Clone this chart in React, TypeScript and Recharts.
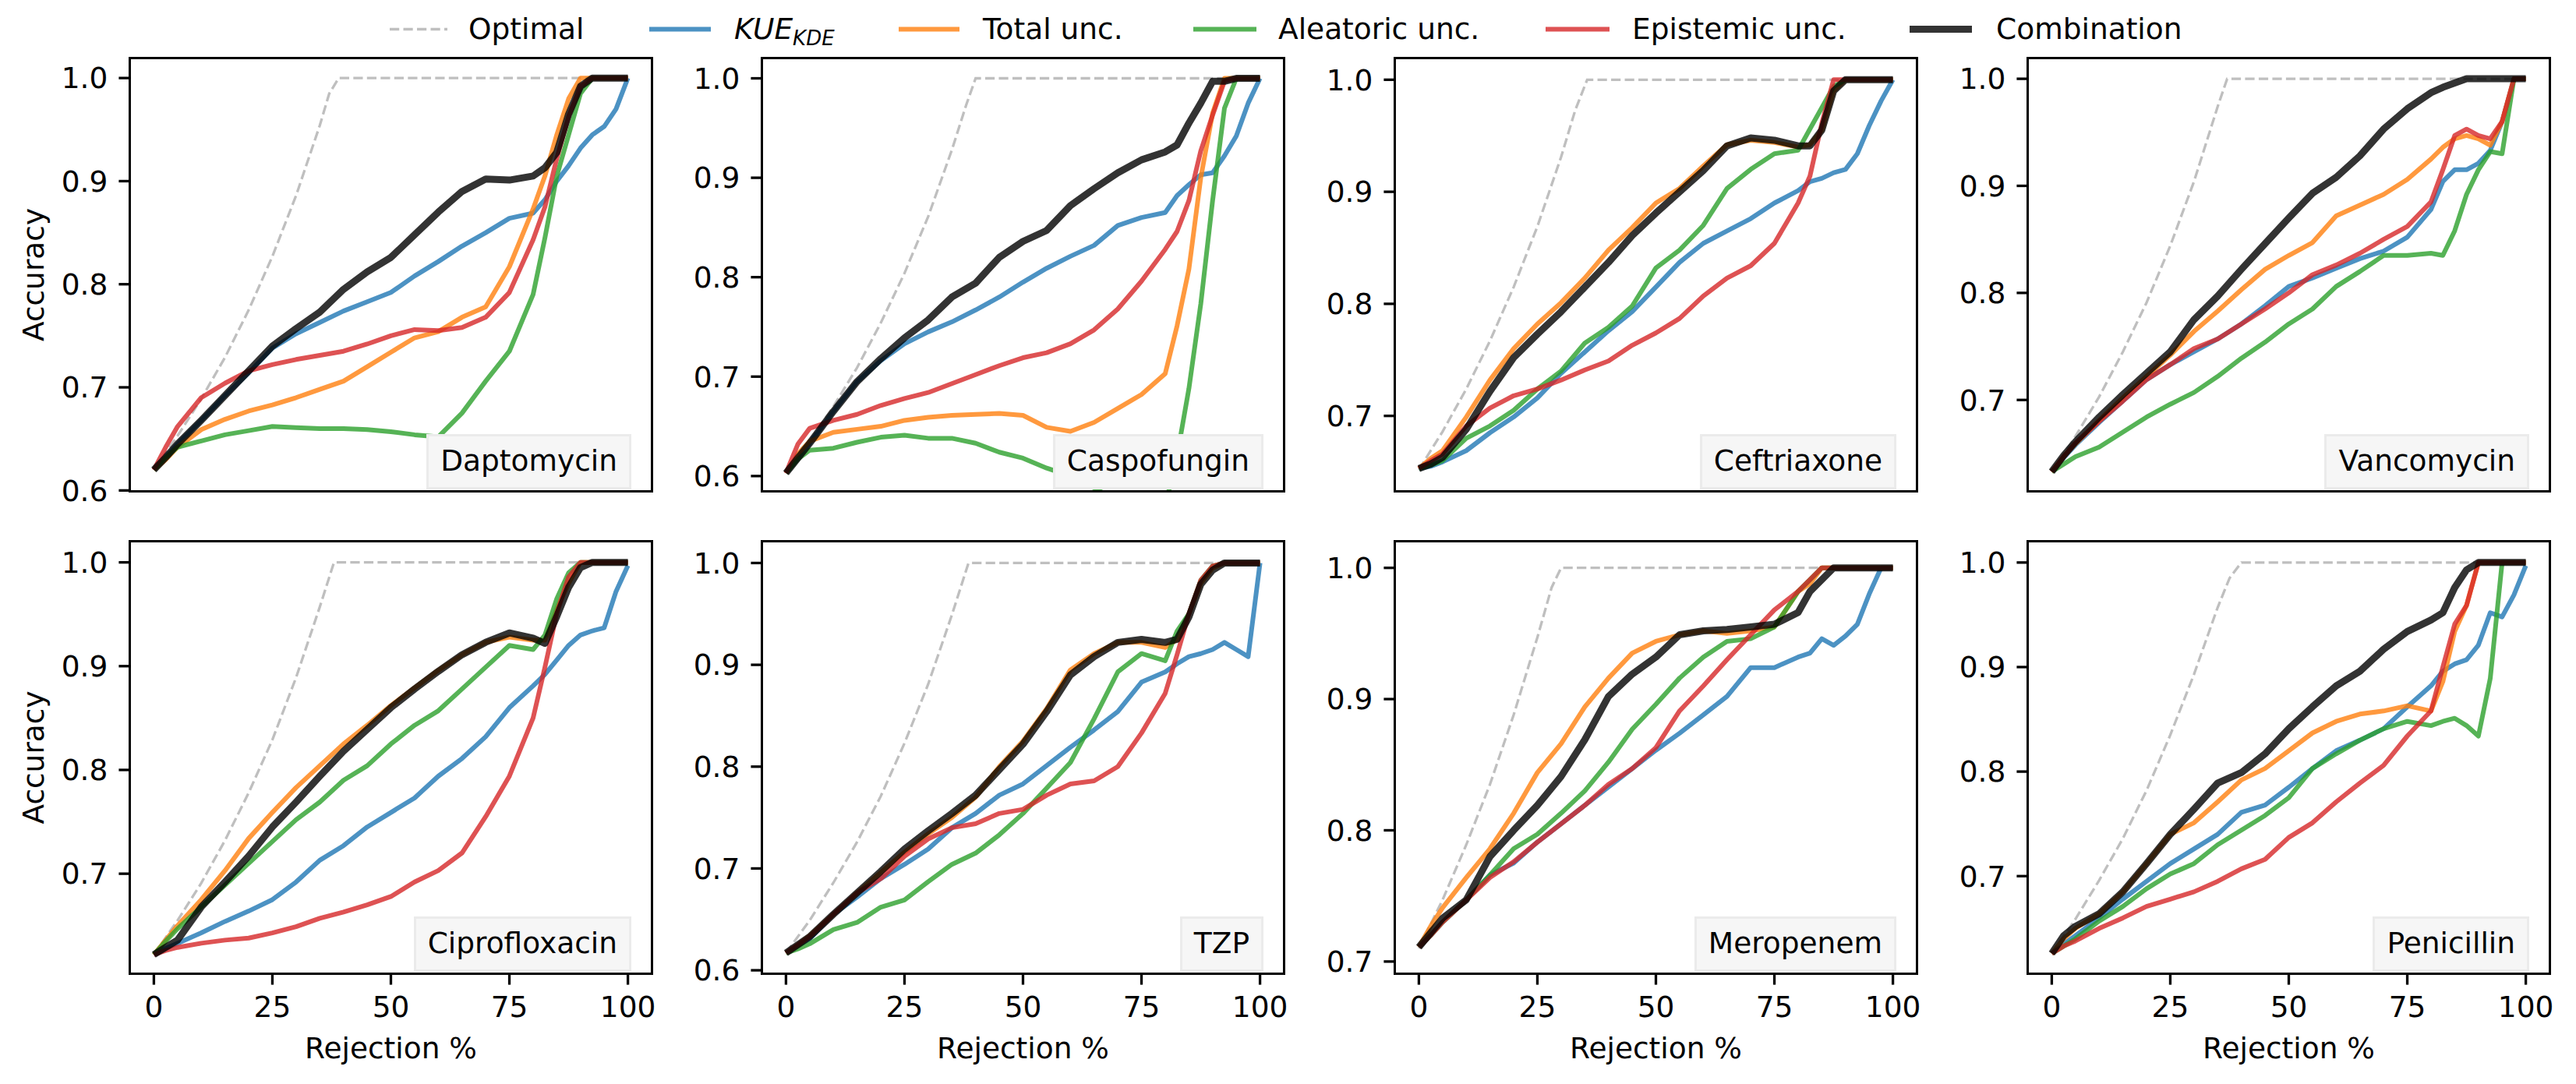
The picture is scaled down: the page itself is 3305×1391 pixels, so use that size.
import { LineChart, Line, XAxis, YAxis } from 'recharts';

// rejection grid shared by the five method curves
const REJ = [0, 2.5, 5, 10, 15, 20, 25, 30, 35, 40, 45, 50, 55, 60, 65, 70, 75, 80, 82.5, 85, 87.5, 90, 92.5, 95, 97.5, 100];

// Daptomycin
const DAPTO_KUE = [.620, .632, .645, .668, .692, .714, .738, .752, .763, .774, .783, .792, .808, .822, .837, .850, .864, .869, .882, .900, .915, .932, .945, .953, .970, 1];
const DAPTO_TOTAL = [.620, .630, .642, .659, .669, .677, .683, .690, .698, .706, .720, .734, .748, .754, .768, .778, .817, .873, .905, .945, .980, 1, 1, 1, 1, 1];
const DAPTO_ALEA = [.620, .632, .642, .648, .654, .658, .662, .661, .660, .660, .659, .657, .654, .652, .675, .706, .735, .790, .845, .905, .945, .985, 1, 1, 1, 1];
const DAPTO_EPI = [.620, .642, .662, .690, .704, .716, .722, .727, .731, .735, .742, .750, .756, .755, .758, .768, .792, .843, .875, .922, .963, .992, 1, 1, 1, 1];
const DAPTO_COMB = [.620, .632, .645, .668, .692, .716, .740, .757, .773, .795, .812, .826, .848, .870, .890, .902, .901, .905, .913, .928, .965, .992, 1, 1, 1, 1];
const DAPTO_OPT_X = [0, 5, 10, 15, 20, 25, 30, 35, 37, 39, 100];
const DAPTO_OPT = [.620, .653, .689, .729, .775, .827, .886, .954, .985, 1, 1];

// Caspofungin
const CASPO_KUE = [.603, .618, .633, .665, .695, .716, .733, .745, .755, .767, .780, .795, .809, .821, .832, .852, .860, .865, .882, .893, .903, .905, .922, .942, .975, 1];
const CASPO_TOTAL = [.603, .622, .635, .644, .647, .650, .656, .659, .661, .662, .663, .661, .649, .645, .654, .668, .682, .703, .751, .808, .900, .965, 1, 1, 1, 1];
const CASPO_ALEA = [.603, .617, .626, .628, .634, .639, .641, .638, .638, .633, .624, .618, .608, .600, .588, .575, .565, .570, .620, .688, .773, .877, .970, 1, 1, 1];
const CASPO_EPI = [.603, .632, .648, .656, .662, .671, .678, .684, .693, .702, .711, .719, .724, .733, .747, .768, .796, .828, .846, .877, .927, .963, .997, 1, 1, 1];
const CASPO_COMB = [.603, .618, .633, .665, .695, .718, .739, .757, .780, .794, .820, .836, .847, .872, .889, .905, .918, .926, .933, .955, .975, .997, .997, 1, 1, 1];
const CASPO_OPT_X = [0, 5, 10, 15, 20, 25, 30, 35, 38, 40, 100];
const CASPO_OPT = [.603, .635, .670, .709, .754, .804, .861, .928, .973, 1, 1];

// Ceftriaxone
const CEFT_KUE = [.653, .655, .659, .669, .685, .699, .716, .738, .757, .776, .793, .815, .837, .854, .865, .876, .890, .901, .909, .912, .917, .920, .934, .959, .981, 1];
const CEFT_TOTAL = [.653, .662, .669, .699, .732, .760, .782, .801, .823, .848, .868, .890, .903, .923, .942, .946, .944, .940, .942, .955, .990, 1, 1, 1, 1, 1];
const CEFT_ALEA = [.653, .656, .660, .680, .691, .705, .724, .740, .765, .779, .798, .832, .848, .870, .903, .920, .934, .937, .956, .975, .994, 1, 1, 1, 1, 1];
const CEFT_EPI = [.653, .660, .666, .691, .707, .718, .724, .732, .741, .749, .763, .774, .787, .807, .823, .834, .854, .890, .914, .961, 1, 1, 1, 1, 1, 1];
const CEFT_COMB = [.653, .657, .663, .688, .722, .752, .773, .793, .815, .837, .861, .881, .900, .919, .941, .948, .946, .941, .941, .955, .990, 1, 1, 1, 1, 1];
const CEFT_OPT_X = [0, 5, 10, 15, 20, 25, 30, 33, 35.5, 100];
const CEFT_OPT = [.652, .686, .724, .767, .815, .869, .931, .973, 1, 1];

// Vancomycin
const VANCO_KUE = [.633, .646, .658, .679, .699, .719, .733, .745, .757, .771, .788, .806, .814, .823, .832, .839, .852, .878, .904, .915, .915, .921, .933, .960, 1, 1];
const VANCO_TOTAL = [.633, .647, .659, .681, .702, .722, .742, .764, .783, .803, .822, .835, .847, .872, .882, .892, .906, .925, .936, .944, .947, .944, .938, .960, 1, 1];
const VANCO_ALEA = [.633, .640, .647, .656, .670, .684, .696, .707, .722, .739, .754, .771, .785, .806, .820, .835, .835, .837, .835, .858, .892, .915, .932, .930, 1, 1];
const VANCO_EPI = [.633, .647, .660, .680, .699, .719, .733, .748, .757, .771, .785, .800, .817, .826, .837, .850, .862, .885, .915, .947, .953, .947, .944, .960, 1, 1];
const VANCO_COMB = [.633, .648, .661, .684, .705, .725, .745, .775, .797, .822, .846, .870, .893, .908, .928, .953, .972, .987, .992, .996, 1, 1, 1, 1, 1, 1];
const VANCO_OPT_X = [0, 5, 10, 15, 20, 25, 30, 35, 37, 100];
const VANCO_OPT = [.633, .666, .703, .745, .791, .844, .904, .974, 1, 1];

// Ciprofloxacin
const CIPRO_KUE = [.622, .628, .633, .643, .654, .664, .675, .692, .713, .727, .745, .759, .773, .794, .811, .832, .860, .881, .892, .906, .920, .930, .934, .937, .972, .997];
const CIPRO_TOTAL = [.622, .636, .650, .675, .703, .734, .759, .783, .804, .825, .843, .862, .879, .896, .911, .923, .928, .925, .925, .955, .980, 1, 1, 1, 1, 1];
const CIPRO_ALEA = [.622, .635, .647, .668, .689, .710, .731, .752, .769, .790, .804, .825, .843, .857, .878, .899, .920, .916, .930, .965, .990, 1, 1, 1, 1, 1];
const CIPRO_EPI = [.622, .626, .629, .633, .636, .638, .643, .649, .657, .663, .670, .678, .692, .703, .720, .755, .794, .850, .899, .951, .986, 1, 1, 1, 1, 1];
const CIPRO_COMB = [.622, .629, .636, .668, .692, .717, .745, .769, .794, .818, .839, .860, .878, .895, .911, .923, .932, .927, .922, .948, .976, .995, 1, 1, 1, 1];
const CIPRO_OPT_X = [0, 5, 10, 15, 20, 25, 30, 35, 38, 100];
const CIPRO_OPT = [.622, .655, .691, .732, .778, .829, .889, .957, 1, 1];

// TZP
const TZP_KUE = [.617, .624, .631, .655, .672, .690, .704, .719, .740, .754, .772, .783, .801, .819, .836, .854, .883, .893, .901, .908, .911, .915, .922, .915, .908, 1];
const TZP_TOTAL = [.617, .625, .634, .655, .676, .696, .716, .734, .750, .770, .800, .825, .857, .895, .911, .922, .922, .917, .925, .950, .980, .995, 1, 1, 1, 1];
const TZP_ALEA = [.617, .621, .626, .640, .647, .662, .669, .687, .704, .715, .733, .754, .779, .804, .847, .893, .911, .904, .933, .950, .983, .997, 1, 1, 1, 1];
const TZP_EPI = [.617, .625, .633, .655, .676, .690, .712, .729, .740, .744, .754, .758, .772, .783, .786, .800, .833, .872, .910, .950, .983, .997, 1, 1, 1, 1];
const TZP_COMB = [.617, .625, .633, .655, .676, .697, .719, .737, .754, .772, .797, .822, .854, .890, .908, .922, .925, .922, .925, .947, .979, .993, 1, 1, 1, 1];
const TZP_OPT_X = [0, 5, 10, 15, 20, 25, 30, 35, 38.5, 100];
const TZP_OPT = [.617, .649, .686, .726, .771, .823, .881, .949, 1, 1];

// Meropenem
const MERO_KUE = [.711, .720, .730, .747, .766, .775, .791, .805, .819, .833, .847, .861, .874, .888, .902, .924, .924, .932, .935, .946, .941, .948, .957, .980, 1, 1];
const MERO_TOTAL = [.711, .727, .741, .764, .786, .813, .844, .866, .894, .916, .935, .944, .949, .952, .950, .952, .955, .982, .988, 1, 1, 1, 1, 1, 1, 1];
const MERO_ALEA = [.711, .720, .730, .747, .766, .786, .797, .813, .830, .852, .877, .896, .916, .932, .944, .946, .955, .982, .991, 1, 1, 1, 1, 1, 1, 1];
const MERO_EPI = [.711, .720, .730, .747, .764, .776, .791, .805, .819, .835, .847, .863, .891, .910, .930, .949, .968, .982, .991, 1, 1, 1, 1, 1, 1, 1];
const MERO_COMB = [.711, .722, .733, .747, .780, .800, .819, .841, .869, .902, .919, .932, .949, .952, .953, .955, .957, .966, .982, .991, 1, 1, 1, 1, 1, 1];
const MERO_OPT_X = [0, 5, 10, 15, 20, 25, 28, 30, 100];
const MERO_OPT = [.710, .747, .789, .835, .888, .947, .985, 1, 1];

// Penicillin
const PENI_KUE = [.626, .635, .643, .660, .678, .695, .712, .726, .740, .761, .768, .785, .803, .820, .830, .841, .862, .882, .896, .903, .907, .921, .952, .948, .969, .997];
const PENI_TOTAL = [.626, .640, .650, .664, .685, .712, .740, .751, .771, .792, .803, .820, .837, .848, .855, .858, .863, .858, .886, .934, .959, 1, 1, 1, 1, 1];
const PENI_ALEA = [.626, .633, .640, .657, .671, .688, .702, .712, .730, .744, .758, .775, .803, .817, .830, .841, .848, .844, .848, .851, .844, .834, .889, 1, 1, 1];
const PENI_EPI = [.626, .633, .638, .650, .660, .671, .678, .685, .695, .707, .716, .737, .751, .771, .789, .806, .834, .858, .900, .941, .959, 1, 1, 1, 1, 1];
const PENI_COMB = [.626, .643, .652, .664, .685, .712, .740, .764, .789, .799, .817, .841, .862, .882, .896, .917, .934, .945, .952, .976, .993, 1, 1, 1, 1, 1];
const PENI_OPT_X = [0, 5, 10, 15, 20, 25, 30, 35, 37.5, 40, 100];
const PENI_OPT = [.626, .659, .696, .736, .782, .835, .893, .957, .985, 1, 1];

const X_TICKS = [0, 25, 50, 75, 100];
const Y_TICKS = [0.6, 0.7, 0.8, 0.9, 1.0];

const PANELS = [
  { name: 'Daptomycin', yDomain: [0.5995, 1.019], kue: DAPTO_KUE, total: DAPTO_TOTAL, alea: DAPTO_ALEA, epi: DAPTO_EPI, comb: DAPTO_COMB, optX: DAPTO_OPT_X, opt: DAPTO_OPT },
  { name: 'Caspofungin', yDomain: [0.585, 1.02], kue: CASPO_KUE, total: CASPO_TOTAL, alea: CASPO_ALEA, epi: CASPO_EPI, comb: CASPO_COMB, optX: CASPO_OPT_X, opt: CASPO_OPT },
  { name: 'Ceftriaxone', yDomain: [0.633, 1.019], kue: CEFT_KUE, total: CEFT_TOTAL, alea: CEFT_ALEA, epi: CEFT_EPI, comb: CEFT_COMB, optX: CEFT_OPT_X, opt: CEFT_OPT },
  { name: 'Vancomycin', yDomain: [0.615, 1.019], kue: VANCO_KUE, total: VANCO_TOTAL, alea: VANCO_ALEA, epi: VANCO_EPI, comb: VANCO_COMB, optX: VANCO_OPT_X, opt: VANCO_OPT },
  { name: 'Ciprofloxacin', yDomain: [0.604, 1.02], kue: CIPRO_KUE, total: CIPRO_TOTAL, alea: CIPRO_ALEA, epi: CIPRO_EPI, comb: CIPRO_COMB, optX: CIPRO_OPT_X, opt: CIPRO_OPT },
  { name: 'TZP', yDomain: [0.597, 1.021], kue: TZP_KUE, total: TZP_TOTAL, alea: TZP_ALEA, epi: TZP_EPI, comb: TZP_COMB, optX: TZP_OPT_X, opt: TZP_OPT },
  { name: 'Meropenem', yDomain: [0.691, 1.02], kue: MERO_KUE, total: MERO_TOTAL, alea: MERO_ALEA, epi: MERO_EPI, comb: MERO_COMB, optX: MERO_OPT_X, opt: MERO_OPT },
  { name: 'Penicillin', yDomain: [0.607, 1.02], kue: PENI_KUE, total: PENI_TOTAL, alea: PENI_ALEA, epi: PENI_EPI, comb: PENI_COMB, optX: PENI_OPT_X, opt: PENI_OPT },
];

const SERIES = [
  { key: 'kue', color: '#1f77b4', width: 6 },
  { key: 'total', color: '#ff7f0e', width: 6 },
  { key: 'alea', color: '#2ca02c', width: 6 },
  { key: 'epi', color: '#d62728', width: 6 },
  { key: 'comb', color: '#000000', width: 9 },
];

const FONT = 'DejaVu Sans';
const FS = 37.5;
const SPINE = 3.3;
const COL_LEFT = [167, 978, 1790, 2602];
const ROW_TOP = [75, 695];
const PLOT_W = 669;
const PLOT_H = [555, 554];
const Y_W = 150;
const PAD = 20;

const TICK = { fill: '#000', fontSize: FS, fontFamily: FONT };
const TICK_LINE = { stroke: '#000', strokeWidth: SPINE };

const toPoints = (xs: number[], ys: number[]) => xs.map((x, i) => ({ x, y: ys[i] }));

function Panel({ panel, col, row }: { panel: any; col: number; row: number }) {
  const left = COL_LEFT[col];
  const top = ROW_TOP[row];
  const ph = PLOT_H[row];
  const bottomRow = row === 1;
  const xh = bottomRow ? 110 : 0;
  const mb = bottomRow ? 0 : 40;
  const yTicks = Y_TICKS.filter(t => t >= panel.yDomain[0] - 1e-6 && t <= panel.yDomain[1]);

  return (
    <>
      <div style={{ position: 'absolute', left: left - Y_W, top: top - PAD }}>
        <LineChart width={Y_W + PLOT_W + PAD} height={PAD + ph + xh + mb} margin={{ top: PAD, right: PAD, bottom: mb, left: 0 }}>
          <XAxis
            type="number" dataKey="x" domain={[-5, 105]} ticks={X_TICKS} allowDataOverflow interval={0}
            height={xh} axisLine={false} stroke="#000"
            tick={bottomRow ? TICK : false} tickLine={bottomRow ? TICK_LINE : false}
            tickSize={14.6} tickMargin={15}
          />
          <YAxis
            type="number" domain={panel.yDomain} ticks={yTicks} allowDataOverflow interval={0}
            width={Y_W} axisLine={false} stroke="#000" tick={TICK} tickLine={TICK_LINE}
            tickSize={14.6} tickMargin={14} tickFormatter={(v: number) => v.toFixed(1)}
          />
          <Line
            data={toPoints(panel.optX, panel.opt)} dataKey="y" type="linear" stroke="#bfbfbf"
            strokeWidth={3.3} strokeDasharray="12.2 5.3" dot={false} activeDot={false} isAnimationActive={false}
          />
          {SERIES.map(s => (
            <Line
              key={s.key} data={toPoints(REJ, panel[s.key])} dataKey="y" type="linear"
              stroke={s.color} strokeOpacity={0.8} strokeWidth={s.width} strokeLinejoin="round"
              dot={false} activeDot={false} isAnimationActive={false}
            />
          ))}
        </LineChart>
      </div>
      {/* axes frame */}
      <div style={{
        position: 'absolute', left: left - SPINE / 2, top: top - SPINE / 2, width: PLOT_W + SPINE, height: ph + SPINE,
        border: `${SPINE}px solid #000`, boxSizing: 'border-box', pointerEvents: 'none',
      }} />
      {/* drug name box */}
      <div style={{
        position: 'absolute', right: 3305 - (left + PLOT_W - 26), top: top + ph - 2 - 71, height: 71,
        boxSizing: 'border-box', border: '3px solid #ebebeb', background: '#f6f6f6', padding: '0 15px',
        fontFamily: FONT, fontSize: FS, lineHeight: '62px', whiteSpace: 'nowrap', color: '#000',
      }}>
        {panel.name}
      </div>
    </>
  );
}

const LEGEND = [
  { label: 'Optimal', x1: 500, x2: 574, tx: 601 },
  { label: 'KUE', x1: 833, x2: 912, tx: 942 },
  { label: 'Total unc.', x1: 1153, x2: 1231, tx: 1261 },
  { label: 'Aleatoric unc.', x1: 1531, x2: 1612, tx: 1640 },
  { label: 'Epistemic unc.', x1: 1983, x2: 2065, tx: 2094 },
  { label: 'Combination', x1: 2450, x2: 2530, tx: 2561 },
];

export default function App() {
  return (
    <div style={{ position: 'absolute', left: 0, top: 0, width: 3305, height: 1391, background: '#fff', overflow: 'hidden' }}>
      {PANELS.map((p, i) => (
        <Panel key={p.name} panel={p} col={i % 4} row={Math.floor(i / 4)} />
      ))}
      <svg width={3305} height={1391} style={{ position: 'absolute', left: 0, top: 0, pointerEvents: 'none' }}
        fontFamily={FONT} fontSize={FS}>
        {/* legend */}
        {LEGEND.map((l, i) => {
          const s = i === 0 ? null : SERIES[i - 1];
          return (
            <g key={l.label}>
              {s ? (
                <line x1={l.x1} x2={l.x2} y1={37.5} y2={37.5} stroke={s.color} strokeOpacity={0.8} strokeWidth={s.width} />
              ) : (
                <line x1={l.x1} x2={l.x2} y1={37.5} y2={37.5} stroke="#bfbfbf" strokeWidth={3.3} strokeDasharray="12.2 5.3" />
              )}
              {i === 1 ? (
                <text x={l.tx} y={50} fill="#000">
                  <tspan fontStyle="italic">KUE</tspan>
                  <tspan fontStyle="italic" fontSize={26} dy={8}>KDE</tspan>
                </text>
              ) : (
                <text x={l.tx} y={50} fill="#000">{l.label}</text>
              )}
            </g>
          );
        })}
        {/* axis labels */}
        {ROW_TOP.map((t, r) => (
          <text key={'yl' + r} transform={`translate(56 ${t + PLOT_H[r] / 2}) rotate(-90)`} textAnchor="middle" fill="#000">Accuracy</text>
        ))}
        {COL_LEFT.map((l, c) => (
          <text key={'xl' + c} x={l + PLOT_W / 2} y={1358} textAnchor="middle" fill="#000">Rejection %</text>
        ))}
      </svg>
    </div>
  );
}
